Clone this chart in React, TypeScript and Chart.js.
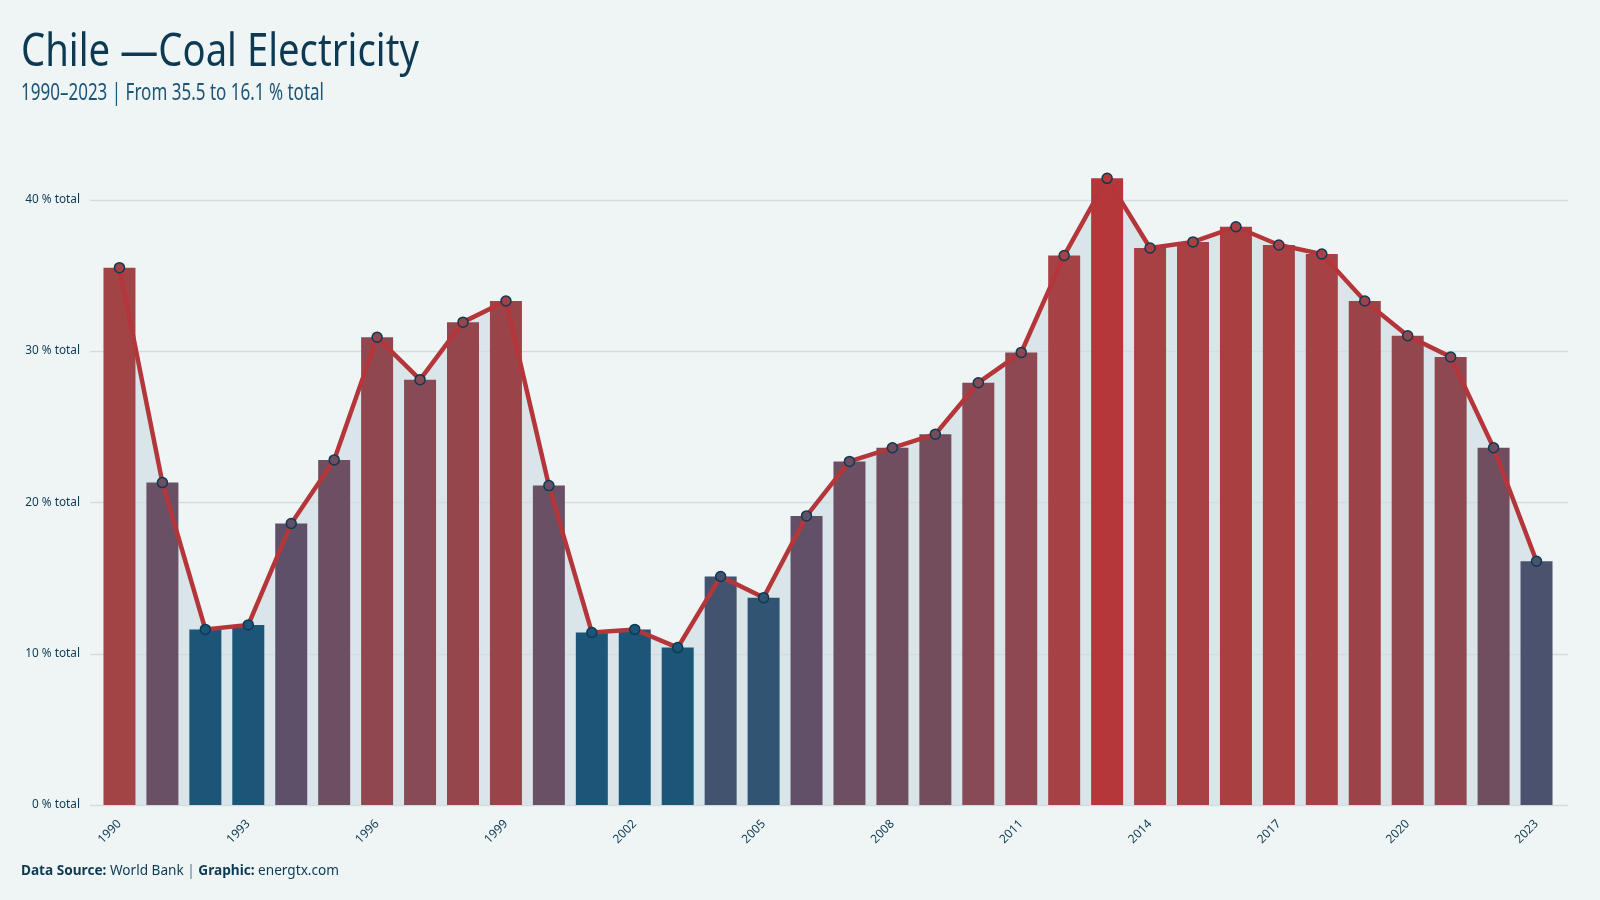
import React, { useEffect, useLayoutEffect, useRef } from "react";
import { Chart, registerables } from "chart.js";

Chart.register(...registerables);

// Coal share of Chile's electricity generation, 1990–2023
const years = [
  "1990", "1991", "1992", "1993", "1994", "1995", "1996", "1997", "1998", "1999",
  "2000", "2001", "2002", "2003", "2004", "2005", "2006", "2007", "2008", "2009",
  "2010", "2011", "2012", "2013", "2014", "2015", "2016", "2017", "2018", "2019",
  "2020", "2021", "2022", "2023",
];
const coalShare = [
  35.5, 21.3, 11.6, 11.9, 18.6, 22.8, 30.9, 28.1, 31.9, 33.3,
  21.1, 11.4, 11.6, 10.4, 15.1, 13.7, 19.1, 22.7, 23.6, 24.5,
  27.9, 29.9, 36.3, 41.4, 36.8, 37.2, 38.2, 37.0, 36.4, 33.3,
  31.0, 29.6, 23.6, 16.1,
];
const yTickValues = [0, 10, 20, 30, 40];
const unitLabel = "% total";

// Blue → red ramp used to tint bars by their value
const rampStops: [number, string][] = [
  [0, "#1b5577"],
  [0.11, "#42536f"],
  [0.23, "#5f5068"],
  [0.32, "#6a5064"],
  [0.43, "#744d5d"],
  [0.55, "#884a55"],
  [0.73, "#9a4449"],
  [0.83, "#a64245"],
  [0.9, "#aa3f42"],
  [1, "#b5373a"],
];
const rampLow = 11.9;

const BG = "#eff5f5";
const INK = "#0d3a52";
const LINE_RED = "#b5363a";
const GRID = "#d3dde1";
const FONT = "'Noto Sans', 'Open Sans', 'DejaVu Sans', sans-serif";

function hexToRgb(h: string) {
  const n = parseInt(h.slice(1), 16);
  return [(n >> 16) & 255, (n >> 8) & 255, n & 255];
}

function rampColor(v: number, lo: number, hi: number) {
  const u = Math.min(1, Math.max(0, (v - lo) / (hi - lo)));
  for (let i = 1; i < rampStops.length; i++) {
    const [p1, c1] = rampStops[i];
    const [p0, c0] = rampStops[i - 1];
    if (u <= p1) {
      const k = (u - p0) / (p1 - p0);
      const a = hexToRgb(c0);
      const b = hexToRgb(c1);
      const m = a.map((x, j) => Math.round(x + (b[j] - x) * k));
      return `rgb(${m[0]},${m[1]},${m[2]})`;
    }
  }
  return rampStops[rampStops.length - 1][1];
}

// Horizontal guide lines that run slightly past the plot on both sides
const guideLines = {
  id: "guideLines",
  beforeDatasetsDraw(chart: any) {
    const { ctx, chartArea, scales } = chart;
    ctx.save();
    ctx.strokeStyle = GRID;
    ctx.lineWidth = 1.3;
    for (const v of yTickValues) {
      const y = Math.round(scales.y.getPixelForValue(v)) + 0.5;
      ctx.beginPath();
      ctx.moveTo(chartArea.left - 8, y);
      ctx.lineTo(chartArea.right + 10, y);
      ctx.stroke();
    }
    ctx.restore();
  },
};

function FitText(props: {
  width: number;
  style: React.CSSProperties;
  children: React.ReactNode;
}) {
  const ref = useRef<HTMLDivElement>(null);
  useLayoutEffect(() => {
    const el = ref.current;
    if (!el) return;
    el.style.transform = "none";
    const w = el.getBoundingClientRect().width;
    if (w > 0) el.style.transform = `scaleX(${props.width / w})`;
  });
  return (
    <div
      ref={ref}
      style={{
        position: "absolute",
        whiteSpace: "nowrap",
        transformOrigin: "0 0",
        lineHeight: 1,
        ...props.style,
      }}
    >
      {props.children}
    </div>
  );
}

export default function App() {
  const canvasRef = useRef<HTMLCanvasElement>(null);

  useEffect(() => {
    const canvas = canvasRef.current;
    if (!canvas) return;
    const hi = Math.max(...coalShare);
    const colors = coalShare.map((v) => rampColor(v, rampLow, hi));

    const chart = new Chart(canvas, {
      data: {
        labels: years,
        datasets: [
          {
            type: "line",
            data: coalShare,
            borderColor: LINE_RED,
            borderWidth: 4.5,
            fill: "origin",
            backgroundColor: "rgba(26,85,119,0.1)",
            tension: 0,
            pointRadius: 5,
            pointHoverRadius: 5,
            pointBorderWidth: 1.5,
            pointBorderColor: INK,
            pointBackgroundColor: colors,
            order: 1,
          },
          {
            type: "bar",
            data: coalShare,
            backgroundColor: colors,
            barPercentage: 0.745,
            categoryPercentage: 1,
            order: 2,
          },
        ],
      } as any,
      options: {
        animation: false,
        responsive: false,
        maintainAspectRatio: false,
        layout: { padding: { top: 139, right: 42, left: 0, bottom: 0 } },
        plugins: {
          legend: { display: false },
          tooltip: { enabled: false },
          filler: { drawTime: "beforeDatasetsDraw" },
        } as any,
        scales: {
          x: {
            offset: true,
            grid: { display: false, drawTicks: false },
            border: { display: false },
            ticks: {
              autoSkip: false,
              maxRotation: 45,
              minRotation: 45,
              padding: 12,
              color: INK,
              font: { family: FONT, size: 12 },
              callback: (_v: any, i: number) => (i % 3 === 0 ? years[i] : null),
            },
            afterFit: (s: any) => {
              s.height = 95;
            },
          },
          y: {
            min: 0,
            max: 44,
            grid: { display: false, drawTicks: false },
            border: { display: false },
            ticks: {
              stepSize: 10,
              padding: 18,
              color: INK,
              font: { family: FONT, size: 11.8 },
              callback: (v: any) => `${v} ${unitLabel}`,
            },
            afterBuildTicks: (s: any) => {
              s.ticks = yTickValues.map((value) => ({ value }));
            },
            afterFit: (s: any) => {
              s.width = 98;
            },
          },
        },
      } as any,
      plugins: [guideLines],
    });
    return () => chart.destroy();
  }, []);

  return (
    <div
      style={{
        position: "fixed",
        left: 0,
        top: 0,
        width: 1600,
        height: 900,
        background: BG,
        overflow: "hidden",
        fontFamily: FONT,
      }}
    >
      <canvas
        ref={canvasRef}
        width={1600}
        height={900}
        style={{ position: "absolute", left: 0, top: 0, width: 1600, height: 900 }}
      />
      <FitText width={398} style={{ left: 21, top: 25, fontSize: 46, color: INK }}>
        Chile —Coal Electricity
      </FitText>
      <FitText width={303} style={{ left: 21, top: 80, fontSize: 23, color: "#1b5577" }}>
        1990–2023 | From 35.5 to 16.1 % total
      </FitText>
      <FitText width={318} style={{ left: 21, top: 864, fontSize: 13.5, color: INK }}>
        <b>Data Source:</b> World Bank <span style={{ color: "#5a7a8c" }}>|</span>{" "}
        <b>Graphic:</b> energtx.com
      </FitText>
    </div>
  );
}
